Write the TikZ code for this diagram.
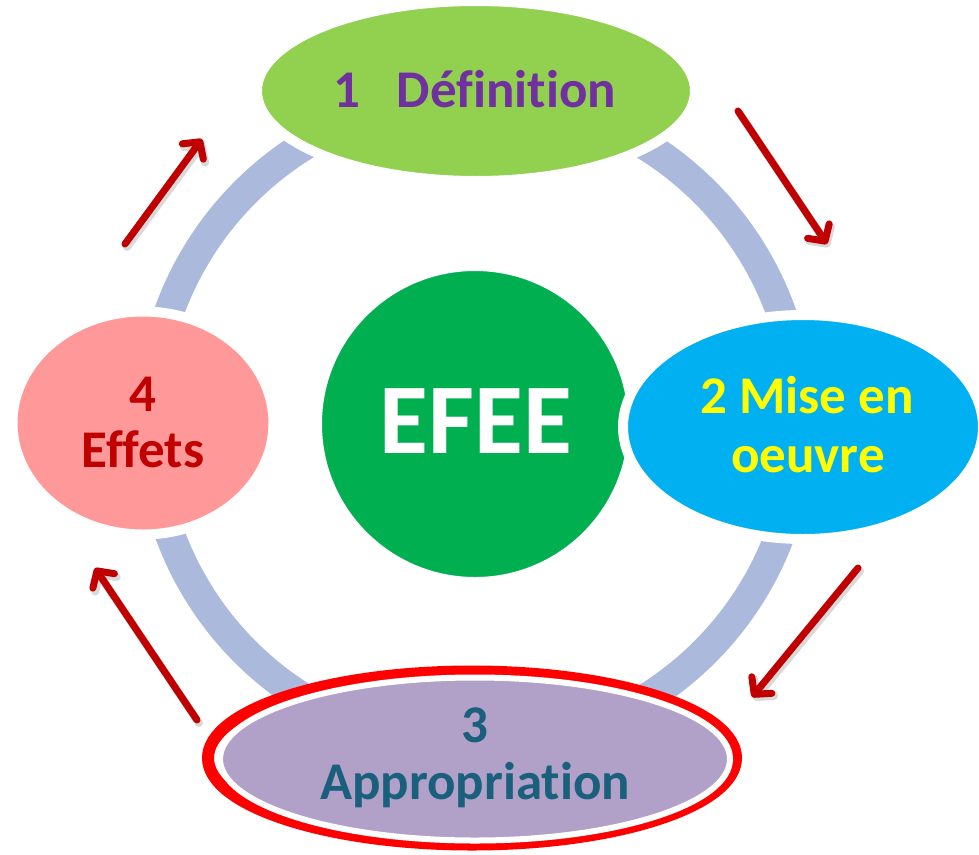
\documentclass[tikz,border=0pt]{standalone}
\usepackage{fontspec}
\setmainfont{Carlito}[RawFeature={-liga;-clig;-dlig}]
\usetikzlibrary{arrows.meta,shapes.geometric,shadows}
\definecolor{ringc}{HTML}{AAB9DC}
\definecolor{defgreen}{HTML}{92D050}
\definecolor{defpurple}{HTML}{7030A0}
\definecolor{miseblue}{HTML}{00B0F0}
\definecolor{miseyellow}{HTML}{FFFF00}
\definecolor{appfill}{HTML}{B1A0C7}
\definecolor{apptext}{HTML}{1A5F7C}
\definecolor{effpink}{HTML}{FF9999}
\definecolor{effred}{HTML}{C00000}
\definecolor{centergreen}{HTML}{00B050}
\definecolor{arrowred}{HTML}{C00000}
\begin{document}
\begin{tikzpicture}[x=1pt,y=-1pt,
  stage/.style={ellipse, inner sep=0pt, draw=white, line width=10pt},
  lbl/.style={font=\fontsize{53}{60}\selectfont\bfseries, anchor=base, inner sep=0pt},
  cyc/.style={draw=arrowred, line width=7pt, line cap=round,
    -{Straight Barb[length=12pt,width=26pt,round]}},
  cycshadow/.style={draw=black, opacity=0.15, line width=8pt, line cap=round,
    -{Straight Barb[length=12pt,width=26pt,round]}}
]
\useasboundingbox (0,0) rectangle (979,854);
\fill[white] (0,0) rectangle (979,854);

% ring
\node[circle, draw=ringc, line width=30pt, minimum size=650pt, inner sep=0pt] (ring) at (475,422) {};

% centre
\node[circle, fill=centergreen, draw=white, line width=4pt, minimum size=310pt, inner sep=0pt] (efee) at (475,424) {};
\node[font=\fontsize{100}{110}\selectfont\bfseries, text=white, anchor=base, inner sep=0pt] (efeet) at (476,453) {EFEE};

% 1 Definition
\node[stage, fill=defgreen, minimum width=438pt, minimum height=180pt] (def) at (476,91) {};
\node[lbl, text=defpurple] (deft) at (475,107) {1~~~Définition};

% 2 Mise en oeuvre
\node[stage, fill=miseblue, minimum width=360pt, minimum height=224pt] (mise) at (803,427) {};
\node[lbl, text=miseyellow] (miset1) at (807,413) {2 Mise en};
\node[lbl, text=miseyellow] (miset2) at (808,472) {oeuvre};

% 4 Effets
\node[stage, fill=effpink, minimum width=261pt, minimum height=223pt] (eff) at (143,423) {};
\node[lbl, text=effred] (efft1) at (143,411) {4};
\node[lbl, text=effred] (efft2) at (143,467) {Effets};

% 3 Appropriation
\node[ellipse, inner sep=0pt, draw=red, fill=white, line width=12pt, minimum width=528pt, minimum height=173pt] (appout) at (472,758) {};
\node[ellipse, inner sep=0pt, draw=white, line width=6pt, fill=appfill, minimum width=510pt, minimum height=163pt,
  drop shadow={shadow xshift=0pt, shadow yshift=-3pt, opacity=0.35}] (app) at (475,759) {};
\node[lbl, text=apptext] (appt1) at (475,742) {3};
\node[lbl, text=apptext] (appt2) at (475,799) {Appropriation};

% arrows
\coordinate (a1s) at (125,244); \coordinate (a1e) at (202,139);
\coordinate (a2s) at (738,111); \coordinate (a2e) at (827,244);
\coordinate (a3s) at (858,568); \coordinate (a3e) at (752,697);
\coordinate (a4s) at (197,720); \coordinate (a4e) at (95,568);
\foreach \s/\e in {a1s/a1e,a2s/a2e,a3s/a3e,a4s/a4e}{
  \draw[cycshadow, transform canvas={xshift=2pt,yshift=-3pt}] (\s) -- (\e);
}
\draw[cyc] (a1s) -- (a1e);
\draw[cyc] (a2s) -- (a2e);
\draw[cyc] (a3s) -- (a3e);
\draw[cyc] (a4s) -- (a4e);
\end{tikzpicture}
\end{document}
